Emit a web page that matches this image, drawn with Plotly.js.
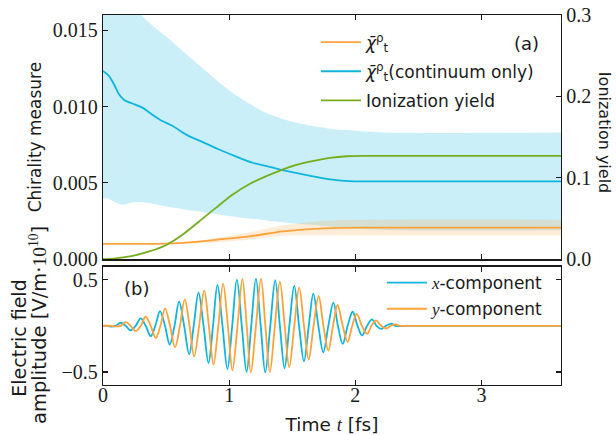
<!DOCTYPE html>
<html><head><meta charset="utf-8">
<script src="https://cdn.plot.ly/plotly-3.0.1.min.js"></script>
<style>html,body{margin:0;padding:0;background:#fff}#plot{width:616px;height:435px}</style>
</head><body><div id="plot"></div>
<script>
// ---- Panel (a): chirality measure ----
const tContinuum = [0,0.048,0.091,0.127,0.167,0.234,0.312,0.386,0.470,0.559,0.656,0.782,0.920,1.057,1.186,1.321,1.453,1.575,1.717,1.818,1.951,2.083,3.7];
const chiContinuum = [0.01234,0.0120,0.0114,0.0108,0.01043,0.0102,0.00993,0.0095,0.00905,0.0087,0.00818,0.0077,0.00719,0.00672,0.00632,0.00605,0.00578,0.00557,0.00535,0.00522,0.00512,0.0051,0.0051];
const tContUpper = [0,0.152,0.305,0.498,0.762,1.026,1.29,1.554,1.798,2.03,2.24,3.7];
const chiContUpper = [0.021,0.0185,0.016,0.0146,0.0127,0.0109,0.0096,0.0089,0.00855,0.0084,0.0083,0.0083];
const tContLower = [0,0.03,0.081,0.152,0.224,0.284,0.356,0.498,0.762,1.026,1.29,1.554,1.798,2.03,2.34,3.7];
const chiContLower = [0.00395,0.0040,0.0038,0.00357,0.0037,0.00375,0.0037,0.00346,0.00313,0.0028,0.00254,0.00232,0.00215,0.0020,0.0019,0.0019];

const tChi = [0,0.508,0.711,0.894,1.158,1.422,1.626,1.798,2.03,3.7];
const chiAll = [0.00101,0.00102,0.00112,0.00127,0.00149,0.00182,0.00196,0.00204,0.00207,0.00207];
const tChiBand = [0,0.508,0.762,1.016,1.158,1.422,1.798,2.03,3.7];
const chiAllUpper = [0.00101,0.00104,0.00122,0.00155,0.00175,0.00221,0.00254,0.00259,0.00259];
const chiAllLower = [0.00101,0.00100,0.00104,0.00118,0.00127,0.00153,0.00157,0.00155,0.00155];

const tYield = [0,0.102,0.234,0.366,0.498,0.630,0.762,0.894,1.026,1.158,1.29,1.453,1.585,1.717,1.798,1.93,2.083,3.7];
const ionYield = [0,0.001,0.004,0.0095,0.0172,0.030,0.0463,0.063,0.0791,0.092,0.1017,0.112,0.118,0.1222,0.1245,0.1265,0.127,0.127];

// ---- Panel (b): electric field ----
const tFieldX = [0,0.03,0.061,0.102,0.140,0.180,0.219,0.259,0.299,0.338,0.378,0.415,0.452,0.491,0.529,0.567,0.603,0.643,0.683,0.719,0.757,0.797,0.836,0.872,0.907,0.947,0.986,1.024,1.061,1.100,1.138,1.175,1.212,1.250,1.286,1.326,1.365,1.402,1.439,1.477,1.516,1.554,1.593,1.631,1.667,1.707,1.746,1.786,1.826,1.862,1.900,1.939,1.979,2.017,2.053,2.093,2.132,2.168,2.204,2.243,2.283,2.316,2.357,2.398,2.45,3.7];
const fieldX = [0,0,-0.008,0,0.033,0,-0.05,0,0.080,0,-0.112,0,0.159,0,-0.203,0,0.261,0,-0.305,0,0.359,0,-0.402,0,0.442,0,-0.467,0,0.50,0,-0.50,0,0.511,0,-0.504,0,0.493,0,-0.457,0,0.431,0,-0.384,0,0.348,0,-0.286,0,0.25,0,-0.196,0,0.152,0,-0.105,0,0.069,0,-0.033,0,0.022,0,-0.004,0,0,0];
const tFieldY = [0,0.061,0.102,0.141,0.180,0.219,0.259,0.299,0.338,0.378,0.418,0.455,0.492,0.531,0.571,0.610,0.648,0.686,0.722,0.762,0.802,0.839,0.876,0.914,0.952,0.990,1.026,1.066,1.105,1.139,1.172,1.212,1.252,1.287,1.323,1.362,1.402,1.440,1.476,1.516,1.555,1.593,1.630,1.669,1.709,1.747,1.786,1.823,1.859,1.900,1.939,1.975,2.011,2.052,2.093,2.128,2.164,2.205,2.244,2.281,2.316,2.357,2.45,3.7];
const fieldY = [0,0,-0.006,0,0.040,0,-0.058,0,0.098,0,-0.130,0,0.188,0,-0.232,0,0.286,0,-0.330,0,0.384,0,-0.42,0,0.457,0,-0.482,0,0.507,0,-0.504,0,0.511,0,-0.50,0,0.478,0,-0.449,0,0.413,0,-0.366,0,0.322,0,-0.268,0,0.225,0,-0.174,0,0.130,0,-0.087,0,0.058,0,-0.029,0,0.015,0,0,0];

const xTicks = [0,1,2,3];
const leftTicks = [0,0.005,0.010,0.015];
const rightTicks = [0,0.1,0.2,0.3];
const fieldTicks = [-0.5,0.5];
const fieldTickText = ['\u22120.5','0.5'];

const BLUE = '#10b5dd', ORANGE = '#ffa23a', GREEN = '#76ad1c';
const SANS = 'DejaVu Sans', SERIF = 'Liberation Serif';
const INK = '#1a1a1a';

const traces = [
  {x: tContLower, y: chiContLower, xaxis:'x', yaxis:'y', mode:'lines', line:{width:0, shape:'spline', smoothing:0.8}, showlegend:false, hoverinfo:'skip'},
  {x: tContUpper, y: chiContUpper, xaxis:'x', yaxis:'y', mode:'lines', line:{width:0, shape:'spline', smoothing:0.8}, fill:'tonexty', fillcolor:'rgba(16,181,221,0.22)', showlegend:false, hoverinfo:'skip'},
  {x: tChiBand, y: chiAllLower, xaxis:'x', yaxis:'y', mode:'lines', line:{width:0, shape:'spline', smoothing:0.8}, showlegend:false, hoverinfo:'skip'},
  {x: tChiBand, y: chiAllUpper, xaxis:'x', yaxis:'y', mode:'lines', line:{width:0, shape:'spline', smoothing:0.8}, fill:'tonexty', fillcolor:'rgba(255,162,58,0.2)', showlegend:false, hoverinfo:'skip'},
  {x: tChi, y: chiAll, xaxis:'x', yaxis:'y', mode:'lines', name:'<i>χ̄</i><sup>ρ</sup><sub>t</sub>', line:{color:ORANGE, width:1.8, shape:'spline', smoothing:0.8}, legend:'legend', legendgroup:'a1'},
  {x: tContinuum, y: chiContinuum, xaxis:'x', yaxis:'y', mode:'lines', name:'<i>χ̄</i><sup>ρ</sup><sub>t</sub>(continuum only)', line:{color:BLUE, width:1.8, shape:'spline', smoothing:0.8}, legend:'legend', legendgroup:'a2'},
  {x: tYield, y: ionYield, xaxis:'x', yaxis:'y2', mode:'lines', name:'Ionization yield', line:{color:GREEN, width:1.8, shape:'spline', smoothing:0.8}, legend:'legend', legendgroup:'a3'},
  {x: tFieldX, y: fieldX, xaxis:'x2', yaxis:'y3', mode:'lines', name:'<span style="font-family:Liberation Serif"><i>x</i></span>-component', line:{color:BLUE, width:1.8, shape:'spline', smoothing:1}, legend:'legend2', legendgroup:'b1'},
  {x: tFieldY, y: fieldY, xaxis:'x2', yaxis:'y3', mode:'lines', name:'<span style="font-family:Liberation Serif"><i>y</i></span>-component', line:{color:ORANGE, width:1.8, shape:'spline', smoothing:1}, legend:'legend2', legendgroup:'b2'}
];

const axisCommon = {showline:true, linecolor:INK, linewidth:1.3, ticks:'inside', ticklen:5, tickwidth:1.2, tickcolor:INK, showgrid:false, zeroline:false, tickfont:{family:SERIF, size:20, color:INK}};

const layout = {
  width:616, height:435,
  margin:{l:103, r:55, t:15, b:50},
  paper_bgcolor:'#fff', plot_bgcolor:'rgba(0,0,0,0)',
  showlegend:true,
  xaxis: Object.assign({}, axisCommon, {domain:[0,1], anchor:'y', range:[0,3.63], tickvals:xTicks, showticklabels:false, mirror:'ticks'}),
  xaxis2: Object.assign({}, axisCommon, {domain:[0,1], anchor:'y3', range:[0,3.63], tickvals:xTicks, mirror:'ticks', matches:'x', ticklabelstandoff:-8,
    title:{text:'Time <span style="font-family:Liberation Serif"><i>t</i></span> [fs]', font:{family:SANS, size:18.5, color:INK}, standoff:13}}),
  yaxis: Object.assign({}, axisCommon, {domain:[0.34,1], anchor:'x', range:[0,0.016], tickvals:leftTicks, tickformat:'.3f', mirror:false,
    title:{text:'Chirality measure', font:{family:SANS, size:17, color:INK}, standoff:6}}),
  yaxis2: Object.assign({}, axisCommon, {overlaying:'y', side:'right', anchor:'x', range:[0,0.3], tickvals:rightTicks, tickformat:'.1f'}),
  yaxis3: Object.assign({}, axisCommon, {domain:[0,0.32], anchor:'x2', range:[-0.64,0.64], tickvals:fieldTicks, ticktext:fieldTickText, mirror:'ticks'}),
  legend: {x:0.465, y:0.974, xanchor:'left', yanchor:'top', bgcolor:'rgba(0,0,0,0)', font:{family:SANS, size:17, color:INK}, tracegroupgap:4, itemwidth:40},
  legend2: {x:0.609, y:0.324, xanchor:'left', yanchor:'top', bgcolor:'rgba(0,0,0,0)', font:{family:SANS, size:17, color:INK}, tracegroupgap:1, itemwidth:40},
  annotations: [
    {xref:'paper', yref:'paper', x:0.924, y:0.924, xanchor:'center', yanchor:'middle', text:'(a)', showarrow:false, font:{family:SANS, size:18, color:INK}},
    {xref:'paper', yref:'paper', x:0.0736, y:0.262, xanchor:'center', yanchor:'middle', text:'(b)', showarrow:false, font:{family:SANS, size:18, color:INK}},
    {xref:'paper', yref:'paper', x:1.094, y:0.684, xanchor:'center', yanchor:'middle', text:'Ionization yield', textangle:90, showarrow:false, font:{family:SANS, size:16, color:INK}},
    {xref:'paper', yref:'paper', x:-0.184, y:0.127, xanchor:'center', yanchor:'middle', text:'Electric field', textangle:-90, showarrow:false, font:{family:SANS, size:19, color:INK}},
    {xref:'paper', yref:'paper', x:-0.142, y:0.162, xanchor:'center', yanchor:'middle', text:'amplitude [V/m·<span style="font-family:Liberation Serif">10<sup>10</sup></span>]', textangle:-90, showarrow:false, font:{family:SANS, size:19.5, color:INK}}
  ]
};

Plotly.newPlot('plot', traces, layout, {staticPlot:true, displayModeBar:false});
</script></body></html>
